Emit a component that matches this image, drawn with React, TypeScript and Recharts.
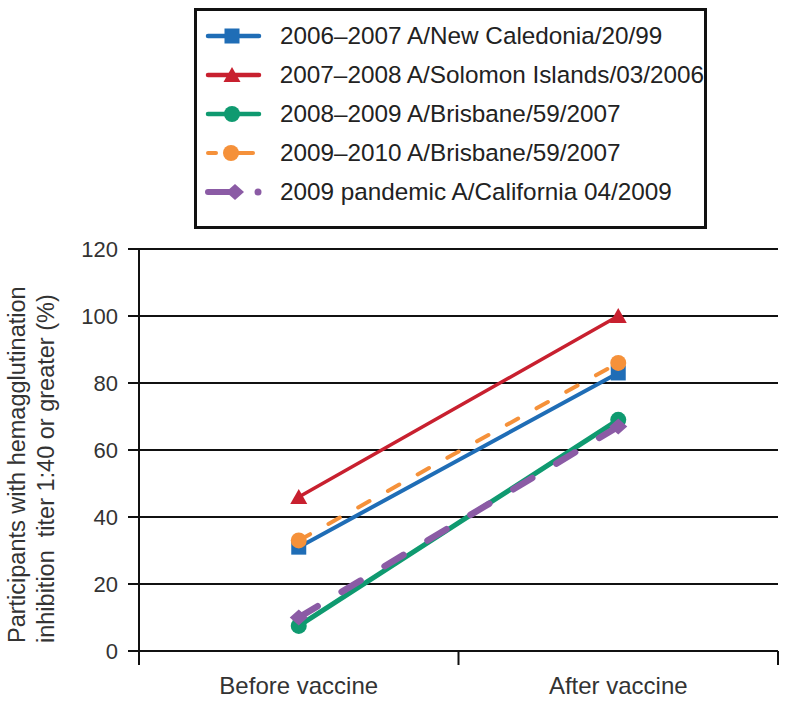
import React from 'react';
import { LineChart, Line, XAxis, YAxis, CartesianGrid, Legend, Label } from 'recharts';

const categories = ['Before vaccine', 'After vaccine'];
const xPositions = [0.5, 1.5];
const xTicks = [0, 0.5, 1, 1.5, 2];
const yTicks = [0, 20, 40, 60, 80, 100, 120];

const newCaledonia = [31, 83];
const solomon = [46, 100];
const brisbane0809 = [7.5, 69];
const brisbane0910 = [33, 86];
const california = [10, 67];

const seriesKeys = ['nc', 'si', 'b1', 'b2', 'ca'];
const seriesNames = [
  '2006\u20132007 A/New Caledonia/20/99',
  '2007\u20132008 A/Solomon Islands/03/2006',
  '2008\u20132009 A/Brisbane/59/2007',
  '2009\u20132010 A/Brisbane/59/2007',
  '2009 pandemic A/California 04/2009',
];
const seriesColors = ['#1f6db6', '#c8202f', '#0f9a70', '#f5913a', '#8b5ba5'];
const seriesShapes = ['square', 'triangle', 'circle', 'circle', 'diamond'];
const seriesDash = [undefined, undefined, undefined, '13 21', '22 28'];
const seriesWidth = [4, 3.5, 5, 4, 6.5];

const data = categories.map((c, i) => ({
  category: c,
  x: xPositions[i],
  nc: newCaledonia[i],
  si: solomon[i],
  b1: brisbane0809[i],
  b2: brisbane0910[i],
  ca: california[i],
}));

const FONT = '"Liberation Sans", Arial, sans-serif';

function Marker({ shape, cx, cy, color }: { shape: string; cx: number; cy: number; color: string }) {
  if (shape === 'square') {
    return <rect x={cx - 7.5} y={cy - 7.5} width={15} height={15} fill={color} />;
  }
  if (shape === 'triangle') {
    return <polygon points={`${cx},${cy - 8} ${cx + 8.5},${cy + 7} ${cx - 8.5},${cy + 7}`} fill={color} />;
  }
  if (shape === 'diamond') {
    return <polygon points={`${cx},${cy - 8} ${cx + 9},${cy} ${cx},${cy + 8} ${cx - 9},${cy}`} fill={color} />;
  }
  return <circle cx={cx} cy={cy} r={8} fill={color} />;
}

const makeDot = (idx: number) => (props: any) => {
  const { cx, cy, key } = props;
  if (cx == null || cy == null) return <g key={key} />;
  return (
    <g key={key}>
      <Marker shape={seriesShapes[idx]} cx={cx} cy={cy} color={seriesColors[idx]} />
    </g>
  );
};

const XTick = (props: any) => {
  const { x, y, payload } = props;
  const v = payload.value as number;
  if (Number.isInteger(v)) {
    return <line x1={x} y1={y} x2={x} y2={y + 14} stroke="#111" strokeWidth={2} />;
  }
  const label = categories[Math.floor(v)];
  return (
    <text x={x} y={y + 43} textAnchor="middle" fill="#333" fontSize={24} fontFamily={FONT}>
      {label}
    </text>
  );
};

const LegendSample = ({ idx }: { idx: number }) => {
  const color = seriesColors[idx];
  const shape = seriesShapes[idx];
  if (idx === 4) {
    return (
      <svg width={57} height={22}>
        <line x1={3} y1={11} x2={30} y2={11} stroke={color} strokeWidth={6} strokeLinecap="round" />
        <Marker shape={shape} cx={30} cy={11} color={color} />
        <circle cx={53} cy={11} r={3.5} fill={color} />
      </svg>
    );
  }
  if (idx === 3) {
    return (
      <svg width={57} height={22}>
        <line x1={3} y1={11} x2={11} y2={11} stroke={color} strokeWidth={4} strokeLinecap="round" />
        <line x1={30} y1={11} x2={48} y2={11} stroke={color} strokeWidth={4} strokeLinecap="round" />
        <Marker shape={shape} cx={26} cy={11} color={color} />
      </svg>
    );
  }
  return (
    <svg width={57} height={22}>
      <line x1={3} y1={11} x2={54} y2={11} stroke={color} strokeWidth={4.5} strokeLinecap="round" />
      <Marker shape={shape} cx={27} cy={11} color={color} />
    </svg>
  );
};

const renderLegend = () => (
  <div
    style={{
      boxSizing: 'border-box',
      width: 513,
      height: 221,
      border: '3px solid #111',
      padding: '5px 0 0 8px',
      background: '#fff',
      fontFamily: FONT,
    }}
  >
    {seriesNames.map((name, i) => (
      <div key={name} style={{ display: 'flex', alignItems: 'center', height: 39 }}>
        <LegendSample idx={i} />
        <span style={{ marginLeft: 18, fontSize: 24.3, color: '#222', whiteSpace: 'nowrap' }}>{name}</span>
      </div>
    ))}
  </div>
);

const YLabel = () => (
  <g>
    <text
      transform="translate(25,643) rotate(-90)"
      textAnchor="start"
      fill="#333"
      fontSize={23.5}
      fontFamily={FONT}
    >
      Participants with hemagglutination
    </text>
    <text
      transform="translate(54,643) rotate(-90)"
      textAnchor="start"
      fill="#333"
      fontSize={23.5}
      fontFamily={FONT}
      style={{ whiteSpace: 'pre' }}
    >
      {'inhibition  titer 1:40 or greater (%)'}
    </text>
  </g>
);

export default function App() {
  return (
    <div style={{ width: 800, height: 704, position: 'relative' }}>
      <style>{'html, body { margin: 0; padding: 0; overflow: hidden; }'}</style>
      <LineChart width={800} height={704} data={data} margin={{ top: 249, right: 22, bottom: 13, left: 79 }}>
        <CartesianGrid horizontal vertical={false} stroke="#111" strokeWidth={2} />
        <XAxis
          type="number"
          dataKey="x"
          domain={[0, 2]}
          ticks={xTicks}
          interval={0}
          tick={<XTick />}
          tickLine={false}
          tickSize={0}
          tickMargin={0}
          axisLine={{ stroke: '#111', strokeWidth: 2 }}
          height={40}
        />
        <YAxis
          type="number"
          domain={[0, 120]}
          ticks={yTicks}
          interval={0}
          width={60}
          tickSize={11}
          tickMargin={10}
          tick={{ fill: '#333', fontSize: 22, fontFamily: FONT }}
          tickLine={{ stroke: '#111', strokeWidth: 2 }}
          axisLine={{ stroke: '#111', strokeWidth: 2 }}
        >
          <Label content={<YLabel />} />
        </YAxis>
        <Legend
          layout="horizontal"
          verticalAlign="middle"
          align="center"
          content={renderLegend}
          wrapperStyle={{ left: 194, top: 8, width: 513, height: 221 }}
        />
        {seriesKeys.map((k, i) => (
          <Line
            key={k}
            type="linear"
            dataKey={k}
            name={seriesNames[i]}
            stroke={seriesColors[i]}
            strokeWidth={seriesWidth[i]}
            strokeDasharray={seriesDash[i]}
            strokeLinecap="round"
            dot={makeDot(i)}
            activeDot={false}
            isAnimationActive={false}
          />
        ))}
      </LineChart>
    </div>
  );
}
